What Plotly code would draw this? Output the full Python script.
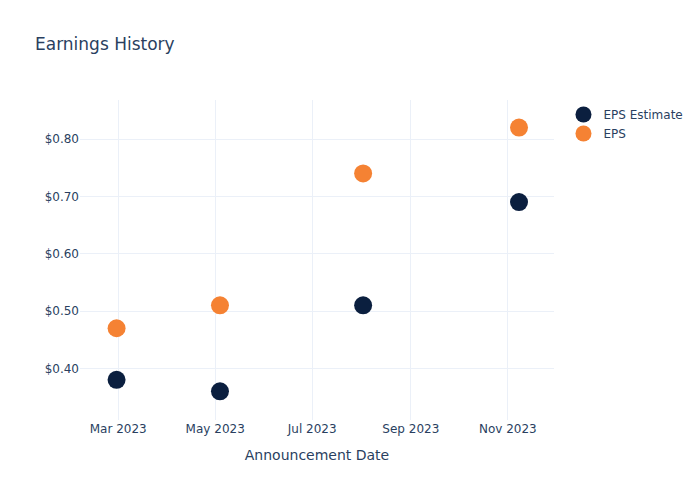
import plotly.graph_objects as go

dates = ["2023-02-28", "2023-05-04", "2023-08-02", "2023-11-08"]
eps_estimate = [0.38, 0.36, 0.51, 0.69]
eps_actual = [0.47, 0.51, 0.74, 0.82]

fig = go.Figure()
fig.add_trace(go.Scatter(x=dates, y=eps_estimate, mode="markers", name="EPS Estimate",
                         marker=dict(color="#0b1f3f", size=18)))
fig.add_trace(go.Scatter(x=dates, y=eps_actual, mode="markers", name="EPS",
                         marker=dict(color="#f58233", size=18)))

fig.update_layout(
    template="plotly_white",
    width=700, height=500,
    font=dict(family="DejaVu Sans"),
    title=dict(text="Earnings History"),
    xaxis=dict(title=dict(text="Announcement Date"), tickformat="%b %Y",
               range=["2023-02-05", "2023-11-30"]),
    yaxis=dict(tickformat="$.2f", range=[0.31, 0.868]),
    legend=dict(x=1.02, y=1),
)
fig.write_html("out.html")
